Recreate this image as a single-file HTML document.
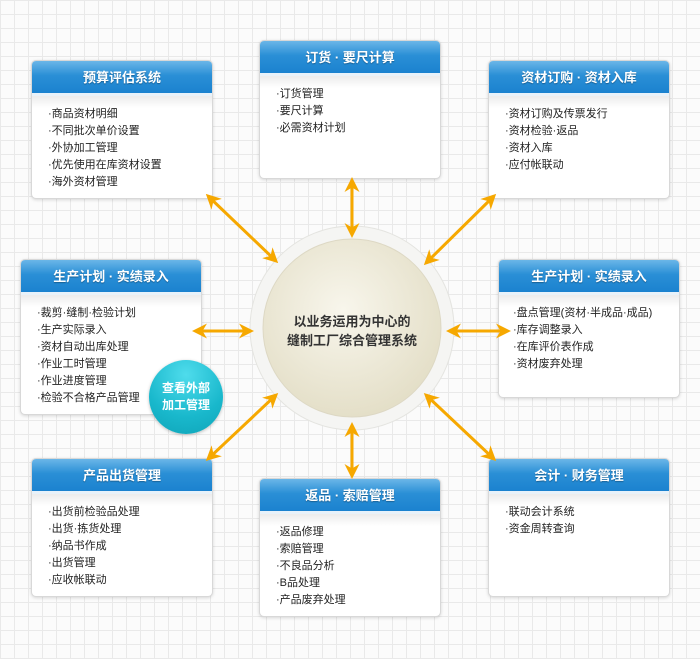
<!DOCTYPE html>
<html><head><meta charset="utf-8"><style>
body{margin:0;width:700px;height:659px;overflow:hidden;position:relative;background:#fbfbfb;
background-image:linear-gradient(to right,#e9e9e9 1px,transparent 1px),linear-gradient(to bottom,#e9e9e9 1px,transparent 1px);
background-size:14px 14px;font-family:"Liberation Sans","Noto Sans CJK SC",sans-serif;}
.b{position:absolute;width:180px;background:#fff;border:1px solid #d8d8d8;border-radius:5px;box-shadow:0 1px 3px rgba(0,0,0,.15);overflow:hidden}
.h{height:32px;line-height:33px;text-align:center;color:#fff;font-weight:bold;font-size:13px;background:linear-gradient(#6bb6e8,#2a8fd6 45%,#1b82cf);border-bottom:3px solid #e8f2fa;text-shadow:0 1px 1px rgba(0,0,0,.3)}
.l{padding:10px 0 0 16px;font-size:11px;color:#222;line-height:17px;background:linear-gradient(#ececec,#fff 12px);white-space:nowrap}
svg{position:absolute;left:0;top:0}
</style></head><body>
<div class="b" style="left:31px;top:60px;height:137px"><div class="h">预算评估系统</div><div class="l">·商品资材明细<br>·不同批次单价设置<br>·外协加工管理<br>·优先使用在库资材设置<br>·海外资材管理</div></div>
<div class="b" style="left:259px;top:40px;height:137px"><div class="h">订货 · 要尺计算</div><div class="l">·订货管理<br>·要尺计算<br>·必需资材计划</div></div>
<div class="b" style="left:488px;top:60px;height:137px"><div class="h">资材订购 · 资材入库</div><div class="l">·资材订购及传票发行<br>·资材检验·返品<br>·资材入库<br>·应付帐联动</div></div>
<div class="b" style="left:20px;top:259px;height:154px"><div class="h">生产计划 · 实绩录入</div><div class="l">·裁剪·缝制·检验计划<br>·生产实际录入<br>·资材自动出库处理<br>·作业工时管理<br>·作业进度管理<br>·检验不合格产品管理</div></div>
<div class="b" style="left:498px;top:259px;height:137px"><div class="h">生产计划 · 实绩录入</div><div class="l" style="padding-left:14px">·盘点管理(资材·半成品·成品)<br>·库存调整录入<br>·在库评价表作成<br>·资材废弃处理</div></div>
<div class="b" style="left:31px;top:458px;height:137px"><div class="h">产品出货管理</div><div class="l">·出货前检验品处理<br>·出货·拣货处理<br>·纳品书作成<br>·出货管理<br>·应收帐联动</div></div>
<div class="b" style="left:259px;top:478px;height:137px"><div class="h">返品 · 索赔管理</div><div class="l">·返品修理<br>·索赔管理<br>·不良品分析<br>·B品处理<br>·产品废弃处理</div></div>
<div class="b" style="left:488px;top:458px;height:137px"><div class="h">会计 · 财务管理</div><div class="l">·联动会计系统<br>·资金周转查询</div></div>
<svg width="700" height="659">
<defs>
<radialGradient id="g" cx="45%" cy="40%" r="60%"><stop offset="0" stop-color="#f8f6ec"/><stop offset="1" stop-color="#e4dfc8"/></radialGradient>
<marker id="a" viewBox="0 0 10 10" refX="8" refY="5" markerWidth="5" markerHeight="5" orient="auto-start-reverse"><path d="M0,0 L10,5 L0,10 L3,5z" fill="#f6a800"/></marker>
</defs>
<circle cx="352" cy="328" r="102" fill="#f5f5f3" stroke="#e4e4e0"/>
<circle cx="352" cy="328" r="89" fill="url(#g)" stroke="#ddd8c4"/>
<g stroke="#f6a800" stroke-width="3" marker-start="url(#a)" marker-end="url(#a)">
<line x1="208" y1="196" x2="276" y2="261"/>
<line x1="352" y1="180" x2="352" y2="235"/>
<line x1="494" y1="196" x2="426" y2="263"/>
<line x1="195" y1="331" x2="251" y2="331"/>
<line x1="449" y1="331" x2="508" y2="331"/>
<line x1="208" y1="459" x2="276" y2="395"/>
<line x1="352" y1="425" x2="352" y2="476"/>
<line x1="494" y1="459" x2="426" y2="395"/>
</g>
<text x="352" y="326" text-anchor="middle" font-size="13" font-weight="bold" fill="#333" font-family="Liberation Sans,Noto Sans CJK SC,sans-serif">以业务运用为中心的</text>
<text x="352" y="345" text-anchor="middle" font-size="13" font-weight="bold" fill="#333" font-family="Liberation Sans,Noto Sans CJK SC,sans-serif">缝制工厂综合管理系统</text>
</svg>
<div style="position:absolute;left:149px;top:360px;width:74px;height:74px;border-radius:50%;background:radial-gradient(circle at 50% 20%,#4fdcec,#19b8cc 60%,#0ea4b8);box-shadow:0 1px 3px rgba(0,0,0,.25);color:#fff;font-weight:bold;font-size:12px;line-height:17px;text-align:center;display:flex;align-items:center;justify-content:center">查看外部<br>加工管理</div>
</body></html>
